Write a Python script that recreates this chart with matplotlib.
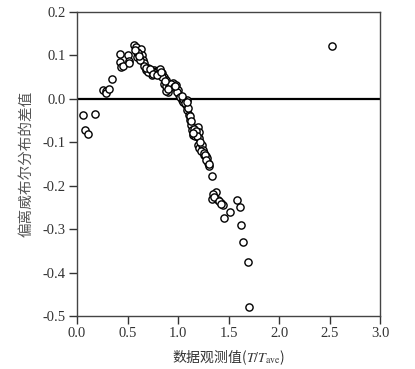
import matplotlib
matplotlib.use('Agg')
import matplotlib.pyplot as plt

plt.rcParams['font.family'] = ['Liberation Serif', 'Noto Sans CJK SC']
plt.rcParams['mathtext.fontset'] = 'stix'

# 观测值 T/Tave 及偏差
x = [0.06, 0.08, 0.11, 0.18, 0.26, 0.29, 0.29, 0.32, 0.35,
     0.43, 0.43, 0.44, 0.46, 0.50, 0.51, 0.51,
     0.564, 0.584, 0.634, 0.597, 0.591, 0.641, 0.650, 0.666, 0.683, 0.706,
     0.723, 0.740, 0.762, 0.789, 0.822, 0.839, 0.861, 0.881, 0.888, 0.904,
     0.881, 0.953, 0.980, 1.003, 1.013, 1.037, 1.052, 1.086, 1.079, 1.092,
     1.106, 1.119, 1.129, 1.139, 1.145, 1.165, 1.198, 1.205, 1.211, 1.201,
     1.211, 1.241, 1.250, 1.257, 1.277, 1.290, 1.300, 1.307, 1.334,
     0.60, 0.62, 0.66, 0.70, 0.74, 0.77, 0.80, 0.84, 0.86, 0.88, 0.91,
     0.93, 0.96, 0.99, 1.02, 1.05, 1.07, 1.10, 1.12, 1.13, 1.16, 1.18,
     1.19, 1.22, 1.23, 1.26, 1.27, 1.28, 1.31,
     0.57, 0.61, 0.68, 0.72, 0.75, 0.79, 0.83, 0.87, 0.90, 0.97, 1.04, 1.09, 1.15,
     1.376, 1.334, 1.399, 1.423, 1.449, 1.515, 1.458, 1.581, 1.614, 1.624,
     1.647, 1.696, 1.706, 1.345, 1.355, 1.41, 1.43,
     2.52]
y = [-0.037, -0.072, -0.082, -0.035, 0.020, 0.019, 0.014, 0.022, 0.046,
     0.103, 0.086, 0.074, 0.075, 0.101, 0.088, 0.082,
     0.124, 0.119, 0.115, 0.109, 0.097, 0.101, 0.089, 0.082, 0.066, 0.070,
     0.061, 0.055, 0.066, 0.063, 0.068, 0.059, 0.051, 0.043, 0.024, 0.016,
     0.019, 0.036, 0.032, 0.020, 0.009, -0.003, -0.007, -0.003, -0.014, -0.026,
     -0.037, -0.049, -0.060, -0.072, -0.083, -0.086, -0.064, -0.076, -0.091, -0.106,
     -0.114, -0.106, -0.118, -0.129, -0.132, -0.137, -0.148, -0.155, -0.177,
     0.105, 0.090, 0.075, 0.062, 0.065, 0.060, 0.058, 0.050, 0.035, 0.030, 0.028,
     0.035, 0.028, 0.015, 0.005, 0.000, -0.010, -0.020, -0.040, -0.050, -0.070, -0.075,
     -0.085, -0.100, -0.120, -0.125, -0.130, -0.140, -0.150,
     0.113, 0.098, 0.072, 0.068, 0.058, 0.054, 0.062, 0.040, 0.022, 0.030, 0.006, -0.008, -0.078,
     -0.214, -0.231, -0.234, -0.239, -0.244, -0.260, -0.275, -0.234, -0.250, -0.290,
     -0.330, -0.375, -0.480, -0.218, -0.226, -0.236, -0.242,
     0.122]

xticks = [0.0, 0.5, 1.0, 1.5, 2.0, 2.5, 3.0]
yticks = [0.2, 0.1, 0.0, -0.1, -0.2, -0.3, -0.4, -0.5]

fig = plt.figure(figsize=(4.15, 3.69), dpi=100)
ax = fig.add_axes([77/415, 53/369, 303/415, 304/369])

ax.axhline(0, color='black', lw=1.6, zorder=1)
ax.plot(x, y, 'o', mfc='white', mec='black', ms=5.2, mew=1.0, ls='none', zorder=2)

ax.set_xlim(0, 3.0)
ax.set_ylim(-0.5, 0.2)
ax.set_xticks(xticks)
ax.set_yticks(yticks)
ax.set_xticklabels(['%.1f' % v for v in xticks])
ax.set_yticklabels(['%.1f' % v for v in yticks])
ax.tick_params(direction='out', length=6, width=1.0, labelsize=10.5, colors='#333333', pad=2)
for s in ax.spines.values():
    s.set_color('#444444')
    s.set_linewidth(1.0)

ax.set_xlabel('数据观测值($T/T_{\\mathrm{ave}}$)', fontsize=10,
              family=['Noto Sans CJK SC', 'DejaVu Sans'], color='#333333', labelpad=5)
ax.set_ylabel('偏离威布尔分布的差值', fontsize=10.5,
              family=['Noto Sans CJK SC', 'DejaVu Sans'], color='#555555', labelpad=7)

fig.savefig('out.png', dpi=100)
